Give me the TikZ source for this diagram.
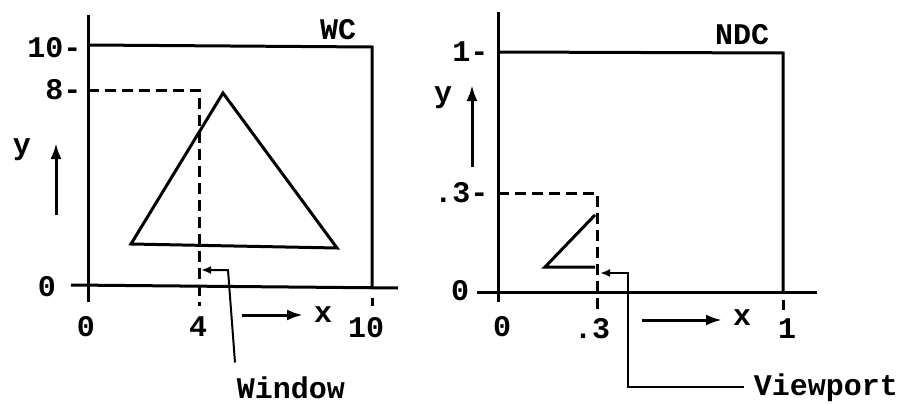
\documentclass[tikz,border=0pt]{standalone}
\usepackage{fontspec}
\setmainfont{Liberation Mono}
\usetikzlibrary{arrows.meta}

\begin{document}
\begin{tikzpicture}[x=1pt,y=-1pt,>={Latex[length=16pt,width=11pt]},
  line width=3pt,font=\fontsize{30}{32}\selectfont\bfseries,
  cut/.style={dash pattern=on 11pt off 6pt},
  lbl/.style={inner sep=0pt},
  ptr/.style={line width=2pt,-{Latex[length=10pt,width=8pt]}}]
\useasboundingbox (0,0) rectangle (905,404);
% world coordinates
\coordinate (wo) at (88,285);
\draw (88,15) -- (88,302);
\draw (71,285) -- (398,288);
\draw (wo |- 0,45) -- (372,47) -- (372,287);
\draw (372,298) -- (372,306);
\draw[cut] (88,90) -- (199,90) -- (199,306);
\draw (223,93) -- (131,244) -- (337,248) -- cycle;
\node[lbl,anchor=east] (wten) at (83,48) {10-};
\node[lbl,anchor=east] (weight) at (83,90) {8-};
\node[lbl] (wzero) at (47,287) {0};
\node[lbl] (wxzero) at (86,327) {0};
\node[lbl] (wxfour) at (198,327) {4};
\node[lbl] (wxten) at (366,328) {10};
\node[lbl] (wc) at (338,30) {WC};
\node[lbl] (wy) at (22,150) {y};
\node[lbl] (wx) at (323,315) {x};
\draw[->] (56,215) -- (56,143);
\draw[->] (242,315) -- (303,315);
\node[lbl] (window) at (291,388) {Window};
\coordinate (wbend) at (228,270);
\coordinate (wtip) at (201,270);
\draw[ptr] ([xshift=-56pt,yshift=13pt]window.north) -- (wbend) -- (wtip);
% normalized device coordinates
\coordinate (no) at (498,292);
\draw (498,12) -- (498,302);
\draw (477,292) -- (817,292);
\draw (no |- 0,52) -- (783,53) -- (783,292);
\draw (783,300) -- (783,310);
\draw[cut] (498,193) -- (597,193) -- (597,310);
\draw (595,215) -- (545,267) -- (595,267);
\node[lbl,anchor=east] (none) at (490,52) {1-};
\node[lbl,anchor=east] (npt) at (490,193) {.3-};
\node[lbl] (nzero) at (460,291) {0};
\node[lbl] (nxzero) at (502,327) {0};
\node[lbl] (nxpt) at (592,329) {.3};
\node[lbl] (nxone) at (787,329) {1};
\node[lbl] (ndc) at (742,35) {NDC};
\node[lbl] (ny) at (443,98) {y};
\node[lbl] (nx) at (742,318) {x};
\draw[->] (472,167) -- (472,85);
\draw[->] (642,320) -- (722,320);
\node[lbl] (viewport) at (826,388) {Viewport};
\coordinate (vlow) at (628,387);
\coordinate (vbend) at (628,273);
\coordinate (vtip) at (600,273);
\draw[ptr] ([xshift=-8pt]viewport.west |- vlow) -- (vlow) -- (vbend) -- (vtip);
\end{tikzpicture}
\end{document}
